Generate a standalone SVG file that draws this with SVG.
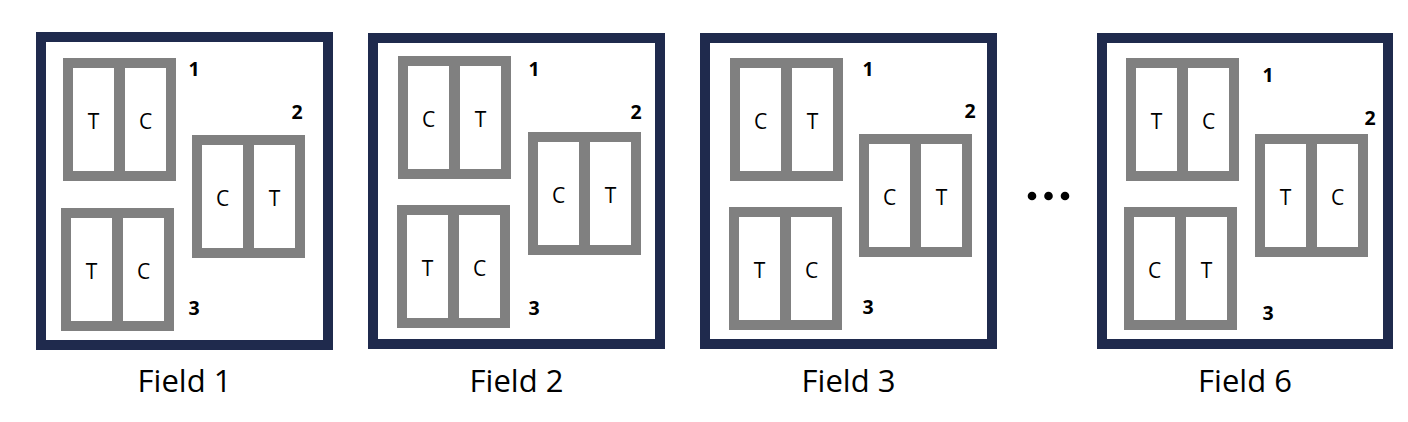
<svg xmlns="http://www.w3.org/2000/svg" width="1408" height="422" viewBox="0 0 1408 422">
<style>
.frame{fill:#fff;stroke:#1F2A4D;stroke-width:10}
.plot{fill:#fff;stroke:#808080;stroke-width:10}
.div{stroke:#808080;stroke-width:11}
.tc{font-family:"Open Sans","Liberation Sans",sans-serif;font-size:21px;fill:#000;text-anchor:middle}
.num{font-family:"Open Sans","Liberation Sans",sans-serif;font-size:19.5px;font-weight:bold;fill:#000;text-anchor:middle}
.cap{font-family:"Open Sans","Liberation Sans",sans-serif;font-size:31px;fill:#000;text-anchor:middle}
</style>
<defs>
<g id="plotTC">
<rect class="plot" x="5" y="5" width="103" height="113"/>
<line class="div" x1="56.5" y1="5" x2="56.5" y2="118"/>
<text class="tc" x="30.5" y="70.5">T</text>
<text class="tc" x="82.5" y="70.5">C</text>
</g>
<g id="plotCT">
<rect class="plot" x="5" y="5" width="103" height="113"/>
<line class="div" x1="56.5" y1="5" x2="56.5" y2="118"/>
<text class="tc" x="30.5" y="70.5">C</text>
<text class="tc" x="82.5" y="70.5">T</text>
</g>
</defs>

<g id="field1">
<rect class="frame" x="41" y="37" width="287" height="308"/>
<use href="#plotTC" x="63" y="58"/>
<use href="#plotCT" x="192" y="135"/>
<use href="#plotTC" x="61" y="208"/>
<text class="num" x="194" y="76">1</text>
<text class="num" x="297" y="119">2</text>
<text class="num" x="194" y="315">3</text>
<text class="cap" x="184.5" y="392">Field 1</text>
</g>

<g id="field2">
<rect class="frame" x="373" y="38" width="287" height="306"/>
<use href="#plotCT" x="398" y="56"/>
<use href="#plotCT" x="528" y="132"/>
<use href="#plotTC" x="397" y="205"/>
<text class="num" x="534" y="76">1</text>
<text class="num" x="636" y="119">2</text>
<text class="num" x="534" y="315">3</text>
<text class="cap" x="516.5" y="392">Field 2</text>
</g>

<g id="field3">
<rect class="frame" x="705" y="38" width="287" height="306"/>
<use href="#plotCT" x="730" y="58"/>
<use href="#plotCT" x="859" y="134"/>
<use href="#plotTC" x="729" y="207"/>
<text class="num" x="868" y="76">1</text>
<text class="num" x="970" y="118">2</text>
<text class="num" x="868" y="314">3</text>
<text class="cap" x="848.5" y="392">Field 3</text>
</g>

<g id="ellipsis">
<circle cx="1032" cy="196" r="4.3" fill="#000"/>
<circle cx="1048.5" cy="196" r="4.3" fill="#000"/>
<circle cx="1065" cy="196" r="4.3" fill="#000"/>
</g>

<g id="field6">
<rect class="frame" x="1102" y="38" width="286" height="306"/>
<use href="#plotTC" x="1126" y="58"/>
<use href="#plotTC" x="1255" y="134"/>
<use href="#plotCT" x="1124" y="207"/>
<text class="num" x="1268" y="82">1</text>
<text class="num" x="1370" y="125">2</text>
<text class="num" x="1268" y="320">3</text>
<text class="cap" x="1245" y="392">Field 6</text>
</g>

<g id="connectors"></g>
</svg>
